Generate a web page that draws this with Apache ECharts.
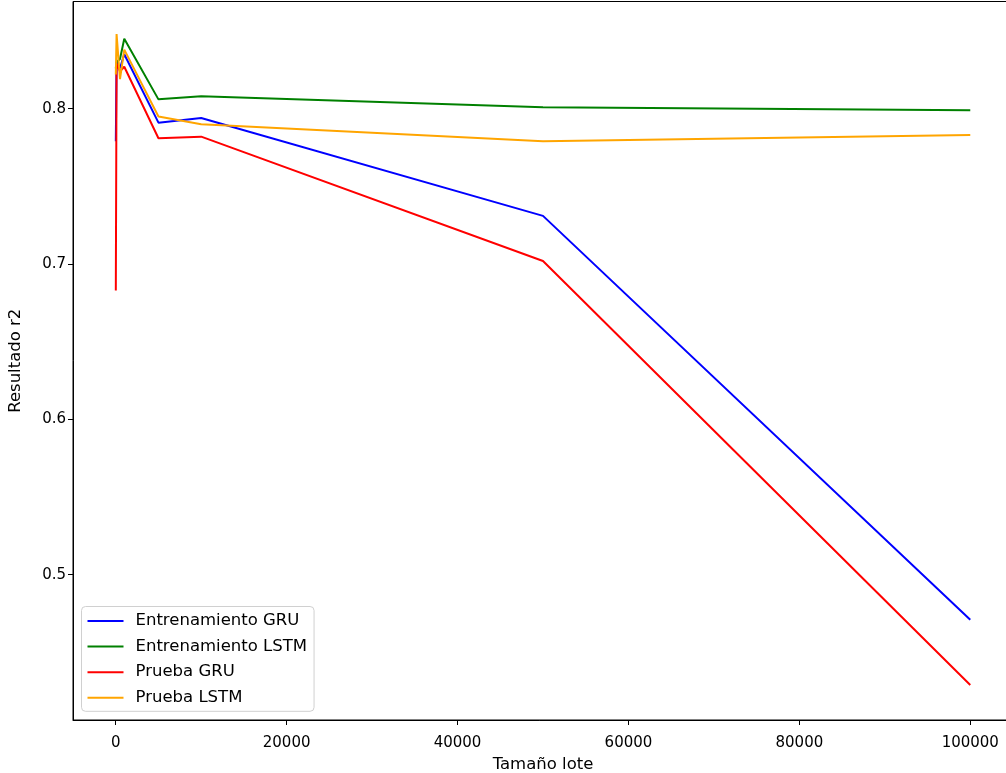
<!DOCTYPE html>
<html>
<head>
<meta charset="utf-8">
<script src="https://cdn.jsdelivr.net/npm/echarts@6/dist/echarts.min.js"></script>
<style>
  html, body { margin: 0; padding: 0; background: #fff; }
  #chart { width: 1006px; height: 773px; }
</style>
</head>
<body>
<div id="chart"></div>
<script>
// Batch sizes tested (x axis)
const batchSizes = [10, 100, 500, 1000, 5000, 10000, 50000, 100000];

// r2 scores per model and split
const trainGRU  = [0.779, 0.830, 0.826, 0.835, 0.791, 0.794, 0.731, 0.471];
const trainLSTM = [0.826, 0.830, 0.832, 0.845, 0.806, 0.808, 0.801, 0.799];
const testGRU   = [0.683, 0.829, 0.824, 0.827, 0.781, 0.782, 0.702, 0.429];
const testLSTM  = [0.822, 0.848, 0.819, 0.838, 0.795, 0.790, 0.779, 0.783];

// Tick labels
const xTicks = [0, 20000, 40000, 60000, 80000, 100000];
const yTicks = [0.5, 0.6, 0.7, 0.8];

const seriesDefs = [
  { name: 'Entrenamiento GRU',  values: trainGRU,  color: '#0000ff' },
  { name: 'Entrenamiento LSTM', values: trainLSTM, color: '#008000' },
  { name: 'Prueba GRU',         values: testGRU,   color: '#ff0000' },
  { name: 'Prueba LSTM',        values: testLSTM,  color: '#ffa500' }
];

const font = 'DejaVu Sans';
const chart = echarts.init(document.getElementById('chart'), null, { renderer: 'canvas' });

chart.setOption({
  animation: false,
  backgroundColor: '#ffffff',
  grid: {
    left: 73, top: 1.5, width: 940, height: 718.5,
    show: true, borderColor: '#000', borderWidth: 1,
    containLabel: false, outerBoundsMode: 'none'
  },
  xAxis: {
    type: 'value',
    min: -4999.5, max: 104999.5,
    name: 'Tamaño lote',
    nameLocation: 'middle',
    nameGap: 35,
    nameTextStyle: { fontFamily: font, fontSize: 16.5, color: '#000' },
    splitLine: { show: false },
    axisLine: { show: true, onZero: false, lineStyle: { color: '#000', width: 1 } },
    axisTick: { show: true, length: 5, customValues: xTicks, lineStyle: { color: '#000' } },
    axisLabel: {
      customValues: xTicks, margin: 16,
      fontFamily: font, fontSize: 15, color: '#000',
      formatter: v => String(v)
    }
  },
  yAxis: {
    type: 'value',
    min: 0.4065, max: 0.869,
    name: 'Resultado r2',
    nameLocation: 'middle',
    nameGap: 49,
    nameTextStyle: { fontFamily: font, fontSize: 16.5, color: '#000' },
    splitLine: { show: false },
    axisLine: { show: true, onZero: false, lineStyle: { color: '#000', width: 1 } },
    axisTick: { show: true, length: 5, customValues: yTicks, lineStyle: { color: '#000' } },
    axisLabel: {
      customValues: yTicks, margin: 7,
      fontFamily: font, fontSize: 15, color: '#000',
      formatter: v => v.toFixed(1)
    }
  },
  legend: {
    orient: 'vertical',
    left: 81.5, top: 606.5,
    padding: [6, 7, 5, 6],
    itemGap: 8.6,
    icon: 'rect',
    itemWidth: 36, itemHeight: 2,
    backgroundColor: 'rgba(255,255,255,0.8)',
    borderColor: '#d0d0d0', borderWidth: 1, borderRadius: 4,
    textStyle: { fontFamily: font, fontSize: 16.5, lineHeight: 14, color: '#000', padding: [0, 0, 0, 7] },
    data: seriesDefs.map(s => s.name)
  },
  series: seriesDefs.map(s => ({
    name: s.name,
    type: 'line',
    data: batchSizes.map((x, i) => [x, s.values[i]]),
    symbol: 'none',
    showSymbol: false,
    clip: true,
    lineStyle: { color: s.color, width: 2 },
    itemStyle: { color: s.color }
  }))
});
</script>
</body>
</html>
